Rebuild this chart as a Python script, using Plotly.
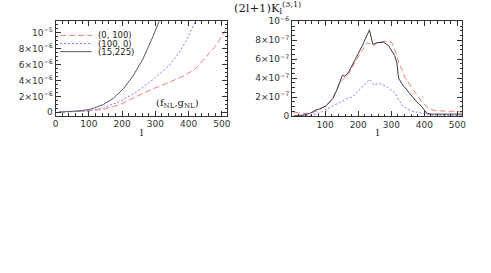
import plotly.graph_objects as go

# ---------------- data ----------------
# left panel (fNL, gNL) curves, y in units of 1e-6
left_gray_x = [10, 40, 75, 105, 144, 174, 204, 233, 263, 293, 311, 320]
left_gray_y = [0.02, 0.06, 0.2, 0.38, 0.98, 1.76, 2.95, 4.55, 6.7, 9.5, 11.4, 12.3]
left_blue_x = [10, 50, 95, 144, 194, 243, 293, 342, 372, 392, 412, 425]
left_blue_y = [0.02, 0.05, 0.15, 0.57, 1.37, 2.56, 4.1, 5.9, 7.5, 8.9, 10.5, 11.8]
left_red_x = [10, 50, 100, 144, 194, 243, 293, 342, 392, 422, 451, 481, 506, 520]
left_red_y = [0.02, 0.05, 0.18, 0.38, 0.98, 1.97, 2.95, 3.75, 4.7, 5.5, 6.9, 8.3, 9.9, 10.9]

# right panel curves, y in units of 1e-7
right_black_x = [5, 20, 33, 53, 70, 83, 103, 123, 137, 152, 160, 172, 192, 212, 234, 244,
                 257, 277, 292, 310, 317, 322, 332, 352, 372, 392, 407, 420, 515]
right_black_y = [0, 0.02, 0.1, 0.27, 0.6, 0.74, 1.08, 1.85, 2.86, 4.3, 4.2, 4.7, 6.06, 7.4, 9.1, 7.58,
                 7.75, 7.8, 7.4, 6.4, 5.6, 4.0, 3.4, 2.5, 1.68, 1.0, 0.3, 0.2, 0.2]
right_red_x = [5, 20, 40, 60, 83, 103, 123, 142, 157, 172, 192, 212, 227, 237, 247, 257, 282,
               302, 312, 322, 342, 372, 392, 412, 432, 472, 492, 517]
right_red_y = [0.35, 0.35, 0.25, 0.3, 0.67, 1.1, 1.85, 3.4, 3.97, 4.5, 5.8, 6.9, 7.75, 7.6, 7.4, 7.75, 7.9,
               7.75, 6.9, 5.7, 4.04, 2.5, 1.5, 0.84, 0.57, 0.5, 0.5, 0.4]
right_blue_x = [5, 40, 60, 83, 113, 142, 167, 182, 202, 222, 234, 247, 262, 282, 302, 312, 322,
                337, 362, 392, 422, 470, 515]
right_blue_y = [0, 0, 0.05, 0.34, 0.84, 1.4, 1.85, 2.0, 2.7, 3.37, 3.87, 3.3, 3.43, 3.2, 2.7, 2.4, 1.7,
                1.0, 0.5, 0.27, 0.1, 0.05, 0.05]

legend_labels = ["(0, 100)", "(100, 0)", "(15,225)"]
left_xticks = [0, 100, 200, 300, 400, 500]
right_xticks = [100, 200, 300, 400, 500]
left_yticks = [0, 2e-6, 4e-6, 6e-6, 8e-6, 1e-5]
left_ytext = ["0", "2×10<sup>−6</sup>", "4×10<sup>−6</sup>", "6×10<sup>−6</sup>",
              "8×10<sup>−6</sup>", "10<sup>−5</sup>"]
right_yticks = [0, 2e-7, 4e-7, 6e-7, 8e-7, 1e-6]
right_ytext = ["0", "2×10<sup>−7</sup>", "4×10<sup>−7</sup>", "6×10<sup>−7</sup>",
               "8×10<sup>−7</sup>", "10<sup>−6</sup>"]

RED = "#f27d7d"
BLUE = "#7b7bf5"
GRAY = "#5a5a5a"
BLACK = "#3a3a3a"

W, H = 491, 273
def px(x):
    return x / W
def py(y):
    return 1 - y / H

fig = go.Figure()

def add(xs, ys, scale, color, dash, xa, ya):
    fig.add_trace(go.Scatter(x=xs, y=[v * scale for v in ys], mode="lines",
                             line=dict(color=color, width=1, dash=dash),
                             xaxis=xa, yaxis=ya, showlegend=False, hoverinfo="skip"))

add(left_red_x, left_red_y, 1e-6, RED, "6px,3px", "x", "y")
add(left_blue_x, left_blue_y, 1e-6, BLUE, "2px,2px", "x", "y")
add(left_gray_x, left_gray_y, 1e-6, GRAY, "solid", "x", "y")
add(right_red_x, right_red_y, 1e-7, RED, "6px,3px", "x2", "y2")
add(right_blue_x, right_blue_y, 1e-7, BLUE, "2px,2px", "x2", "y2")
add(right_black_x, right_black_y, 1e-7, BLACK, "solid", "x2", "y2")

tickfont = dict(family="DejaVu Sans", size=9, color="#333")
common = dict(showline=True, linecolor="#333", linewidth=1, mirror="ticks",
              ticks="inside", ticklen=5, tickwidth=1, tickcolor="#333",
              showgrid=False, zeroline=False, tickfont=tickfont)

fig.update_layout(
    width=W, height=H,
    margin=dict(l=0, r=0, t=0, b=0),
    paper_bgcolor="white", plot_bgcolor="white",
    showlegend=False,
    xaxis=dict(domain=[px(53.3), px(227.7)], range=[0, 517], tickvals=left_xticks,
               minor=dict(dtick=20, ticklen=2.5, ticks="inside", tickcolor="#333"),
               anchor="y", **common),
    yaxis=dict(domain=[py(113.5), py(15)], range=[-0.4e-6, 11.4e-6], tickvals=left_yticks,
               ticktext=left_ytext,
               minor=dict(dtick=0.5e-6, ticklen=2.5, ticks="inside", tickcolor="#333"),
               anchor="x", **common),
    xaxis2=dict(domain=[px(293.3), px(466)], range=[0, 515], tickvals=right_xticks,
                minor=dict(dtick=20, ticklen=2.5, ticks="inside", tickcolor="#333"),
                anchor="y2", **common),
    yaxis2=dict(domain=[py(114.5), py(15)], range=[-0.005e-6, 1.0e-6], tickvals=right_yticks,
                ticktext=right_ytext,
                minor=dict(dtick=0.5e-7, ticklen=2.5, ticks="inside", tickcolor="#333"),
                anchor="x2", **common),
)

serif = "DejaVu Serif"
ann = []
ann.append(dict(x=px(268), y=py(1.2), xref="paper", yref="paper", showarrow=False,
                xanchor="center", yanchor="middle",
                text="(2l+1)K<sub>l</sub><sup>(3,1)</sup>",
                font=dict(family=serif, size=11.5, color="#222")))
ann.append(dict(x=px(140), y=py(131), xref="paper", yref="paper", showarrow=False,
                xanchor="center", yanchor="middle",
                text="l", font=dict(family=serif, size=10, color="#222")))
ann.append(dict(x=px(380), y=py(131), xref="paper", yref="paper", showarrow=False,
                xanchor="center", yanchor="middle",
                text="l", font=dict(family=serif, size=10, color="#222")))
ann.append(dict(x=px(177), y=py(101), xref="paper", yref="paper", showarrow=False,
                xanchor="center", yanchor="middle",
                text="(f<sub>NL</sub>,g<sub>NL</sub>)",
                font=dict(family=serif, size=10, color="#222")))

shapes = []
leg_rows = [29.7, 38.2, 46.7]
leg_styles = [(RED, "6px,3px"), (BLUE, "2px,2px"), (GRAY, "solid")]
for lab, yy, (c, d) in zip(legend_labels, leg_rows, leg_styles):
    shapes.append(dict(type="line", xref="paper", yref="paper",
                       x0=px(58), x1=px(90), y0=py(yy), y1=py(yy),
                       line=dict(color=c, width=1, dash=d)))
    ann.append(dict(x=px(94), y=py(yy), xref="paper", yref="paper", showarrow=False,
                    xanchor="left", yanchor="middle", text=lab,
                    font=dict(family="DejaVu Sans", size=8.5, color="#222")))

fig.update_layout(annotations=ann, shapes=shapes)
fig.write_html("out.html", config={"displayModeBar": False},
               post_script="document.body.style.margin='0';document.body.style.overflow='hidden';")
